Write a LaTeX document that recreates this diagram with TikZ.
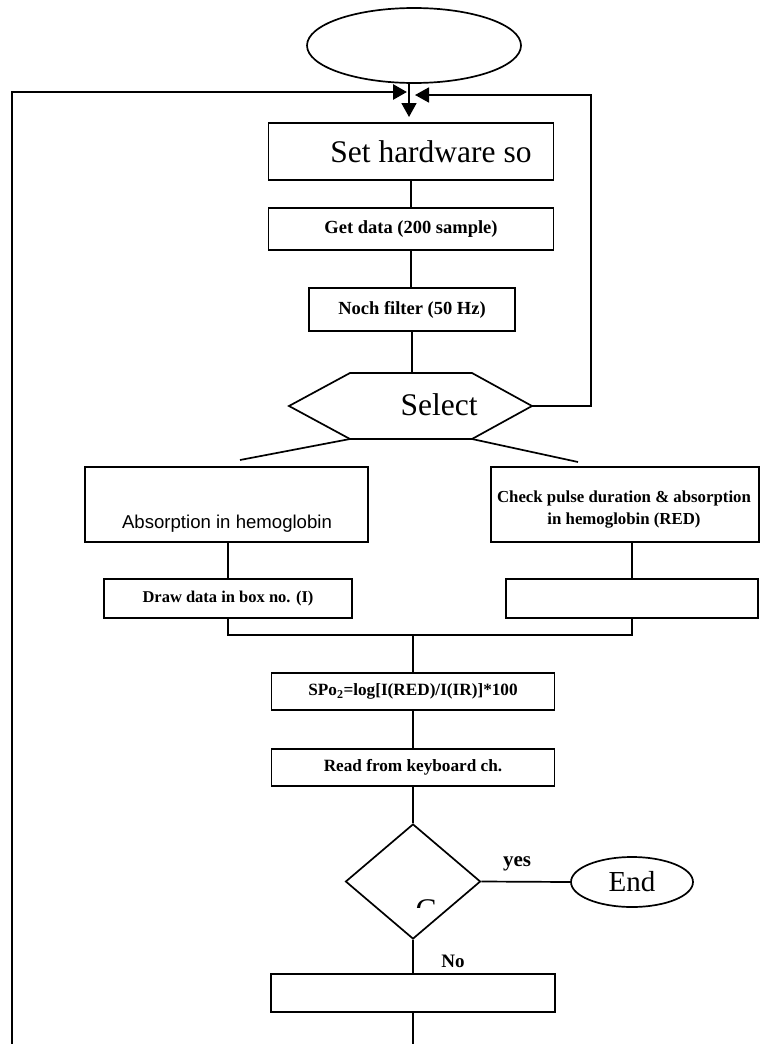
\documentclass[tikz,border=0pt]{standalone}
\usepackage{fontspec}
\setmainfont{Liberation Serif}
\newfontfamily\arialfont{Liberation Sans}
\usepackage{tikz}
\usetikzlibrary{positioning, calc, shapes.geometric, arrows.meta}

\begin{document}
\begin{tikzpicture}[
  x=1pt, y=-1pt,
  box/.style={draw, line width=1.7pt, inner sep=0pt},
  link/.style={line width=1.7pt},
  loopline/.style={line width=2.8pt},
  arrowline/.style={-{Triangle[length=14pt, width=15pt]}},
  boldlbl/.style={font=\fontsize{17.2}{22}\selectfont\bfseries},
  widelbl/.style={font=\fontsize{18.5}{22}\selectfont\bfseries},
  biglbl/.style={font=\fontsize{31.5}{36}\selectfont},
  sanslbl/.style={font=\arialfont\fontsize{18.6}{22}\selectfont},
  yesno/.style={font=\fontsize{21}{24}\selectfont\bfseries},
]
\useasboundingbox (0,0) rectangle (765,1044);

% ==================== Start and loop entry ====================
\node[ellipse, box, minimum width=214pt, minimum height=75pt] (start) at (414,45.5) {};
\coordinate (entry) at (409,117);
\draw[link, arrowline] (start.south -| entry) -- (entry);

\node[box, minimum width=285pt, minimum height=57pt, biglbl] (hw) at (411,151.5) {\hspace*{40pt}Set hardware so};
\node[box, minimum width=285pt, minimum height=42pt, widelbl] (getdata) at (411,229) {Get data (200 sample)};
\node[box, minimum width=206pt, minimum height=43pt, widelbl] (notch) at (412,309.5) {Noch filter (50 Hz)};

\draw[link] (hw.south) -- (getdata.north);
\draw[link] (getdata.south) -- (getdata.south |- notch.north);

% ==================== Select ====================
\coordinate (selW) at (289,406);
\coordinate (selNW) at (350,373);
\coordinate (selNE) at (472,373);
\coordinate (selE) at (532,406);
\coordinate (selSE) at (472,439);
\coordinate (selSW) at (350,439);
\draw[link] (selNW) -- (selNE) -- (selE) -- (selSE) -- (selSW) -- (selW) -- cycle;
\node[biglbl] (sel) at (439,405) {Select};
\draw[link] (notch.south) -- (notch.south |- selNW);

% back to the entry, right side
\coordinate (rcorner) at (591,95);
\coordinate (joinR) at (415,95);
\draw[link, arrowline] (selE) -| (rcorner) -- (joinR);

% fork
\coordinate (forkL) at (240,460);
\coordinate (forkR) at (578,462);
\draw[link] (selSW) -- (forkL);
\draw[link] (selSE) -- (forkR);

% ==================== Two branches ====================
\node[box, minimum width=283pt, minimum height=75pt] (absorb) at (226.5,504.5) {};
\node[sanslbl] (absorbtxt) at (227,524) {Absorption in hemoglobin};
\node[box, minimum width=268pt, minimum height=75pt] (check) at (625,504.5) {};
\node[font=\fontsize{16.8}{22}\selectfont\bfseries, align=center] (checktxt) at (624,510) {Check pulse duration \& absorption\\in hemoglobin (RED)};

\node[box, minimum width=248pt, minimum height=39pt, font=\fontsize{16.5}{20}\selectfont\bfseries] (drawdata) at (228,598.5) {Draw data in box no. (I)};
\node[box, minimum width=252pt, minimum height=39pt] (spare) at (632,598.5) {};

\draw[link] (absorb.south -| drawdata) -- (drawdata.north);
\draw[link] (check.south -| spare) -- (spare.north);

\coordinate (merge) at (413,635);
\draw[link] (drawdata.south) |- (merge) -| (spare.south);

% ==================== Result ====================
\node[box, minimum width=283pt, minimum height=37pt, boldlbl] (spo2) at (413,691.5) {SPo\textsubscript{2}=log[I(RED)/I(IR)]*100};
\node[box, minimum width=283pt, minimum height=37pt, boldlbl] (readkey) at (413,767.5) {Read from keyboard ch.};
\draw[link] (merge) -- (merge |- spo2.north);
\draw[link] (spo2.south) -- (readkey.north);

% ==================== Decision ====================
\node[diamond, box, aspect=1.17, minimum width=135pt, minimum height=115pt] (choice) at (413,881.5) {};
\begin{scope}
  \clip (400,895) rectangle (450,907);
  \node[biglbl] (ctxt) at (426,910) {C};
\end{scope}
\draw[link] (readkey.south) -- (choice.north);

\node[ellipse, box, minimum width=122pt, minimum height=50pt, font=\fontsize{29}{32}\selectfont] (stop) at (632,882) {End};
\draw[link] (choice.east) -- (stop.west);
\node[yesno] (yeslbl) at (517,864) {yes};

\node[box, minimum width=284pt, minimum height=38pt] (final) at (413,993) {};
\node[yesno, font=\fontsize{19}{22}\selectfont\bfseries] (nolbl) at (453,961) {No};
\draw[link] (choice.south) -- (final.north);
\coordinate (bottomexit) at (413,1044);
\draw[link] (final.south) -- (bottomexit);

% back to the entry, left side
\coordinate (loopfoot) at (12,1044);
\coordinate (loopcorner) at (12,92);
\coordinate (joinL) at (407,92);
\draw[loopline, arrowline] (loopfoot) -- (loopcorner) -- (joinL);

\end{tikzpicture}
\end{document}
